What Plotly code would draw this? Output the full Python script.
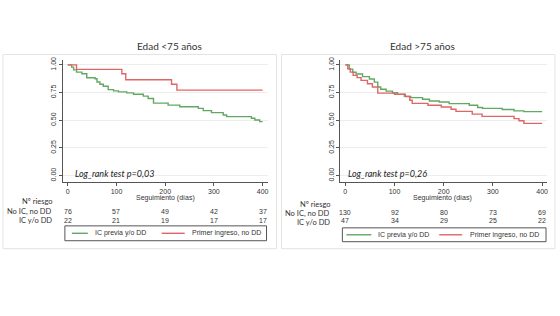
import plotly.graph_objects as go

# ---------------- data ----------------
# Left panel: Edad <75 años
left_green_t = [0, 8, 12, 18, 29, 39, 56, 60, 66, 73, 83, 94, 104, 121, 135, 155, 165, 176,
                206, 230, 268, 278, 295, 319, 326, 377, 384, 394, 400]
left_green_s = [1.0, 0.98, 0.955, 0.935, 0.92, 0.884, 0.875, 0.845, 0.825, 0.807, 0.777, 0.765,
                0.756, 0.747, 0.735, 0.718, 0.697, 0.655, 0.637, 0.622, 0.607, 0.587, 0.569,
                0.548, 0.533, 0.518, 0.503, 0.488, 0.488]
left_red_t = [0, 18, 111, 119, 213, 224, 400]
left_red_s = [1.0, 0.959, 0.92, 0.866, 0.825, 0.772, 0.772]

# Right panel: Edad >75 años
right_green_t = [0, 8, 15, 22, 35, 49, 59, 66, 72, 83, 96, 106, 120, 133, 157, 171, 191, 211,
                 252, 269, 279, 319, 343, 363, 400]
right_green_s = [1.0, 0.962, 0.933, 0.918, 0.894, 0.873, 0.844, 0.8, 0.78, 0.763, 0.748, 0.734,
                 0.716, 0.704, 0.69, 0.674, 0.665, 0.65, 0.636, 0.615, 0.607, 0.597, 0.585,
                 0.578, 0.578]
right_red_t = [0, 5, 10, 16, 24, 32, 45, 55, 66, 100, 122, 131, 136, 168, 195, 215, 225, 258,
               278, 343, 353, 363, 400]
right_red_s = [1.0, 0.965, 0.935, 0.905, 0.885, 0.86, 0.83, 0.80, 0.745, 0.735, 0.715, 0.68,
               0.652, 0.635, 0.62, 0.60, 0.58, 0.555, 0.535, 0.515, 0.495, 0.472, 0.472]

risk_days = [0, 100, 200, 300, 400]
left_risk_row1 = [76, 57, 49, 42, 37]
left_risk_row2 = [22, 21, 19, 17, 17]
right_risk_row1 = [130, 92, 80, 73, 69]
right_risk_row2 = [47, 34, 29, 25, 22]

titles = ["Edad <75 años", "Edad >75 años"]
logrank = ["Log_rank test p=0,03", "Log_rank test p=0,26"]
risk_labels = ["Nº riesgo", "No IC, no DD", "IC y/o DD"]
legend_labels = ["IC previa y/o DD", "Primer ingreso, no DD"]
x_title = "Seguimiento (días)"
y_ticks = [0, 0.25, 0.5, 0.75, 1.0]
y_ticktext = ["0.00", "0.25", "0.50", "0.75", "1.00"]

# ---------------- styling ----------------
W, H = 560, 316
GREEN = "#62a862"
RED = "#e06666"
TXT = "#333333"
AX = "#555555"

def px(x):
    return x / W

def py(y):
    return 1 - y / H

fig = go.Figure()
fig.add_trace(go.Scatter(x=left_green_t, y=left_green_s, mode="lines", line_shape="hv",
                         line=dict(color=GREEN, width=1.4), xaxis="x", yaxis="y", showlegend=False))
fig.add_trace(go.Scatter(x=left_red_t, y=left_red_s, mode="lines", line_shape="hv",
                         line=dict(color=RED, width=1.4), xaxis="x", yaxis="y", showlegend=False))
fig.add_trace(go.Scatter(x=right_green_t, y=right_green_s, mode="lines", line_shape="hv",
                         line=dict(color=GREEN, width=1.4), xaxis="x2", yaxis="y2", showlegend=False))
fig.add_trace(go.Scatter(x=right_red_t, y=right_red_s, mode="lines", line_shape="hv",
                         line=dict(color=RED, width=1.4), xaxis="x2", yaxis="y2", showlegend=False))

ydom = [py(181), py(58)]
xaxis_common = dict(range=[-10, 410], tickvals=risk_days, showgrid=False, zeroline=False,
                    showline=True, linecolor=AX, linewidth=1, ticks="outside", ticklen=3,
                    tickcolor=AX, ticklabelstandoff=-1,
                    tickfont=dict(family="Liberation Sans, Arial", size=7, color=TXT))
yaxis_common = dict(range=[-0.06, 1.04], domain=ydom, tickvals=y_ticks, ticktext=y_ticktext,
                    showgrid=True, gridcolor="#ededed", gridwidth=1, zeroline=False,
                    showline=True, linecolor=AX, linewidth=1, ticks="outside", ticklen=3,
                    tickcolor=AX, tickangle=-90,
                    tickfont=dict(family="Liberation Sans, Arial", size=7, color=TXT))

fig.update_layout(
    width=W, height=H, margin=dict(l=0, r=0, t=0, b=0),
    paper_bgcolor="white", plot_bgcolor="white", showlegend=False,
    xaxis=dict(domain=[px(63), px(268)], anchor="y", **xaxis_common),
    yaxis=dict(anchor="x", **yaxis_common),
    xaxis2=dict(domain=[px(341), px(548)], anchor="y2", **xaxis_common),
    yaxis2=dict(anchor="x2", **yaxis_common),
)

shapes = []
annotations = []

panels = [
    dict(xref="x", x0b=3, x1b=277, cx=170, title=titles[0], lr=logrank[0], lrx=73,
         lab_right=54, xt=166, xty=196.5, rows=(left_risk_row1, left_risk_row2),
         ly=(200, 210.5, 220), ny=(211, 220),
         leg=(65, 225, 267, 240), g=(72, 88), gt=93, r=(162, 185), rt=190),
    dict(xref="x2", x0b=282, x1b=556, cx=423, title=titles[1], lr=logrank[1], lrx=347,
         lab_right=333, xt=443, xty=196.5, rows=(right_risk_row1, right_risk_row2),
         ly=(203, 212.3, 221.5), ny=(211.5, 220),
         leg=(343, 227, 547, 241), g=(347, 372), gt=377, r=(440, 463), rt=469),
]

for p in panels:
    # faint panel frame
    shapes.append(dict(type="rect", xref="paper", yref="paper", x0=px(p["x0b"]), x1=px(p["x1b"]),
                       y0=py(248), y1=py(52), line=dict(color="#e4e4e4", width=1), layer="below"))
    # title
    annotations.append(dict(text=p["title"], x=px(p["cx"]), y=py(43), xref="paper", yref="paper",
                            showarrow=False, xanchor="center", yanchor="middle",
                            font=dict(family="Lato, Open Sans", size=10, color=TXT)))
    # log-rank text
    annotations.append(dict(text="<i>" + p["lr"] + "</i>", x=px(p["lrx"]), y=py(172), xref="paper",
                            yref="paper", showarrow=False, xanchor="left", yanchor="middle",
                            font=dict(family="Lato, Open Sans", size=9, color="#222222")))
    # x axis title
    annotations.append(dict(text=x_title, x=px(p["xt"]), y=py(p["xty"]), xref="paper", yref="paper",
                            showarrow=False, xanchor="center", yanchor="middle",
                            font=dict(family="Liberation Sans, Arial", size=7, color=TXT)))
    # risk table labels
    for lab, yy in zip(risk_labels, p["ly"]):
        annotations.append(dict(text=lab, x=px(p["lab_right"]), y=py(yy), xref="paper", yref="paper",
                                showarrow=False, xanchor="right", yanchor="middle",
                                font=dict(family="Lato, Open Sans", size=7.5, color=TXT)))
    for row, yy in zip(p["rows"], p["ny"]):
        for d, n in zip(risk_days, row):
            annotations.append(dict(text=str(n), x=d, y=py(yy), xref=p["xref"], yref="paper",
                                    showarrow=False, xanchor="center", yanchor="middle",
                                    font=dict(family="Liberation Sans, Arial", size=7, color=TXT)))
    # legend box
    lx0, ly0, lx1, ly1 = p["leg"]
    cy = (ly0 + ly1) / 2
    shapes.append(dict(type="rect", xref="paper", yref="paper", x0=px(lx0), x1=px(lx1),
                       y0=py(ly1), y1=py(ly0), line=dict(color=AX, width=1)))
    shapes.append(dict(type="line", xref="paper", yref="paper", x0=px(p["g"][0]), x1=px(p["g"][1]),
                       y0=py(cy), y1=py(cy), line=dict(color=GREEN, width=1.4)))
    shapes.append(dict(type="line", xref="paper", yref="paper", x0=px(p["r"][0]), x1=px(p["r"][1]),
                       y0=py(cy), y1=py(cy), line=dict(color=RED, width=1.4)))
    annotations.append(dict(text=legend_labels[0], x=px(p["gt"]), y=py(cy), xref="paper", yref="paper",
                            showarrow=False, xanchor="left", yanchor="middle",
                            font=dict(family="Liberation Sans, Arial", size=7, color=TXT)))
    annotations.append(dict(text=legend_labels[1], x=px(p["rt"]), y=py(cy), xref="paper", yref="paper",
                            showarrow=False, xanchor="left", yanchor="middle",
                            font=dict(family="Liberation Sans, Arial", size=7, color=TXT)))

fig.update_layout(shapes=shapes, annotations=annotations)
fig.write_html("out.html", config={"displayModeBar": False},
               post_script="document.body.style.margin='0px';")
